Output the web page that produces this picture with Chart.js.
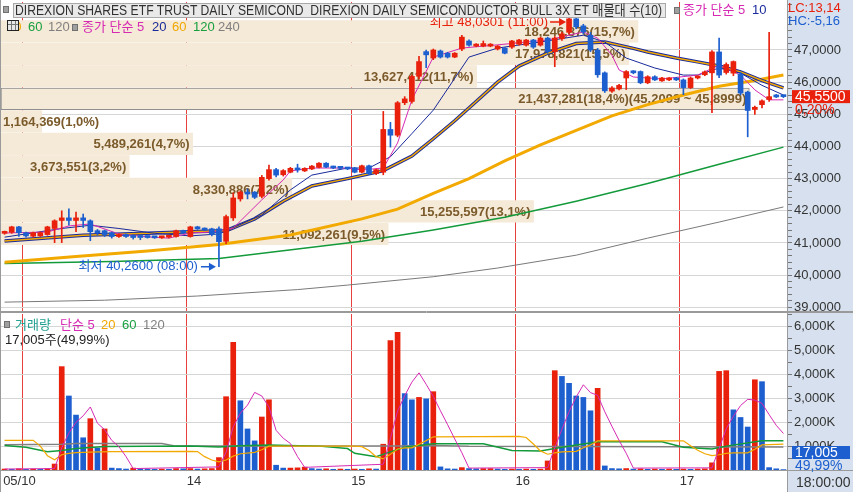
<!DOCTYPE html>
<html><head><meta charset="utf-8">
<script src="https://cdn.jsdelivr.net/npm/chart.js@4.4.1/dist/chart.umd.min.js"></script>
<style>
html,body{margin:0;padding:0;background:#fff;}
#wrap{position:relative;width:853px;height:492px;overflow:hidden;font-family:'Liberation Sans','Noto Sans CJK KR',sans-serif;}
canvas{position:absolute;left:0;}
.ov{position:absolute;white-space:nowrap;font-size:13px;line-height:14px;transform-origin:0 0;}
.sq{position:absolute;width:4px;height:5px;background:#a0a0a0;border:1px solid #707070;}
</style></head><body>
<div id="wrap">
<canvas id="cp" width="853" height="312" style="top:0"></canvas>
<canvas id="cv" width="853" height="180" style="top:312px"></canvas>
<div class="sq" style="left:3px;top:6px"></div>
<div style="position:absolute;left:13px;top:3px;width:653px;height:15px;background:#e9e9e9;border:1px solid #a8a8a8;box-sizing:border-box;"></div>
<div class="ov" id="title" style="left:15px;top:3px;color:#303030;font-size:14px;">DIREXION SHARES ETF TRUST DAILY SEMICOND&nbsp; DIREXION DAILY SEMICONDUCTOR BULL 3X ET 매물대 수(10)</div>
<div class="sq" style="left:674px;top:7px"></div>
<div class="ov" style="left:683px;top:3px;color:#d62ab4">종가 단순 5</div>
<div class="ov" style="left:752px;top:3px;color:#1a2a9c">10</div>
<div class="ov" style="left:788px;top:1px;color:#e8200c">LC:13,14</div>
<div class="ov" style="left:788px;top:14px;color:#1d5fcf">HC:-5,16</div>
<div class="ov" style="left:7px;top:20px;color:#f0a800">20</div>
<div style="position:absolute;left:7px;top:20px;width:12px;height:11px;border:1px solid #222;background:#e6e6e6;box-sizing:border-box;background-image:linear-gradient(#777,#777),linear-gradient(#777,#777),linear-gradient(#777,#777);background-size:1px 100%,1px 100%,100% 1px;background-position:3px 0,7px 0,0 3px;background-repeat:no-repeat;"></div>
<div class="ov" style="left:28px;top:20px;color:#18a040">60</div>
<div class="ov" style="left:48px;top:20px;color:#808080">120</div>
<div class="sq" style="left:72px;top:24px"></div>
<div class="ov" style="left:82px;top:20px;color:#d62ab4">종가 단순 5</div>
<div class="ov" style="left:152px;top:20px;color:#1a2a9c">20</div>
<div class="ov" style="left:172px;top:20px;color:#f0a800">60</div>
<div class="ov" style="left:193px;top:20px;color:#18a040">120</div>
<div class="ov" style="left:218px;top:20px;color:#808080">240</div>
<div class="sq" style="left:4px;top:321px"></div>
<div class="ov" style="left:15px;top:318px;color:#20a090">거래량</div>
<div class="ov" style="left:60px;top:318px;color:#d62ab4">단순 5</div>
<div class="ov" style="left:101px;top:318px;color:#f0a800">20</div>
<div class="ov" style="left:122px;top:318px;color:#18a040">60</div>
<div class="ov" style="left:143px;top:318px;color:#808080">120</div>
<div class="ov" style="left:5px;top:333px;color:#222">17,005주(49,99%)</div>
<div class="ov" style="left:796px;top:475px;color:#333;font-size:14px">18:00:00</div>
</div>
<script>
// ---------------- data ----------------
const openP = [41.30,41.33,41.50,41.32,41.21,41.22,41.26,41.45,41.70,41.78, 41.70,41.78,41.69,41.38,41.38,41.32,41.20,41.26,41.23,41.22,
 41.20,41.19,41.16,41.18,41.20,41.38,41.20,41.50,41.45,41.44, 41.44,41.05,41.78,42.37,42.58,42.58,42.45,43.00,43.28,43.12,
 43.20,43.33,43.24,43.30,43.35,43.48,43.37,43.35,43.33,43.33, 43.20,43.40,43.16,43.20,44.53,44.35,45.36,45.40,46.18,46.95,
 46.75,46.97,46.90,46.78,47.03,47.28,47.12,47.12,47.12,47.03, 47.06,47.09,47.18,47.15,47.31,47.15,47.37,46.95,47.35,47.55,
 47.97,47.75,47.46,47.00,46.29,45.72,45.79,46.13,46.33,46.33, 45.98,46.17,46.04,46.07,46.13,46.07,45.83,46.13,46.23,46.29,
 46.94,46.30,46.28,46.25,45.69,45.15,45.30,45.46,45.58,45.56];
const highP = [41.37,41.52,41.52,41.34,41.34,41.34,41.52,41.72,42.00,42.06, 41.96,41.90,41.72,41.42,41.40,41.34,41.28,41.28,41.25,41.23,
 41.21,41.20,41.21,41.23,41.40,41.40,41.52,41.52,41.47,41.46, 41.50,41.87,42.56,42.62,42.68,42.60,43.10,43.42,43.32,43.28,
 43.35,43.45,43.34,43.41,43.50,43.50,43.39,43.37,43.35,43.35, 43.42,43.42,43.30,45.09,44.75,45.40,45.55,46.22,46.80,47.00,
 47.03,47.00,46.93,46.92,47.46,47.32,47.20,47.28,47.20,47.14, 47.08,47.30,47.33,47.33,47.33,47.40,47.40,47.42,47.55,48.0301,
 48.00,47.80,47.55,47.05,46.32,45.86,45.93,46.36,46.36,46.35, 46.20,46.20,46.15,46.14,46.15,46.10,46.16,46.20,46.35,46.98,
 47.37,46.60,46.66,46.30,45.72,45.26,45.45,47.55,45.62,45.58];
const lowP = [41.27,41.30,41.20,41.18,41.18,41.20,41.24,41.01,41.01,41.55, 41.35,41.48,41.07,41.25,41.20,41.15,41.17,41.17,41.12,41.10,
 41.15,41.14,41.14,41.16,41.18,41.30,41.18,41.42,41.38,41.22, 40.26,40.98,41.70,42.30,42.37,42.38,42.40,42.95,43.05,43.08,
 43.18,43.20,43.22,43.28,43.33,43.34,43.31,43.30,43.28,43.18, 43.18,43.12,43.12,43.12,43.98,44.30,45.30,45.35,46.10,46.45,
 46.70,46.75,46.75,46.76,46.98,47.12,47.10,47.10,47.10,47.00, 46.88,47.05,47.15,47.12,47.05,47.12,46.90,46.48,47.30,47.50,
 47.66,47.50,46.95,46.15,45.68,45.68,45.76,45.77,46.26,45.95, 45.95,46.05,46.02,46.05,46.05,45.61,45.80,46.10,46.20,45.05,
 46.14,46.25,46.20,45.60,44.30,45.00,45.20,45.40,45.52,45.52];
const closeP = [41.35,41.50,41.32,41.22,41.32,41.32,41.50,41.69,41.78,41.70, 41.78,41.70,41.35,41.32,41.26,41.20,41.26,41.20,41.17,41.17,
 41.17,41.16,41.19,41.21,41.38,41.32,41.50,41.44,41.40,41.26, 41.04,41.82,42.40,42.58,42.52,42.42,43.04,43.28,43.11,43.25,
 43.32,43.27,43.32,43.39,43.48,43.36,43.33,43.32,43.30,43.20, 43.40,43.15,43.28,44.53,44.35,45.36,45.48,46.18,46.64,46.85,
 47.00,46.78,46.78,46.90,47.40,47.15,47.18,47.20,47.18,47.12, 46.90,47.28,47.31,47.31,47.09,47.37,46.95,47.37,47.50,47.97,
 47.72,47.56,47.00,46.23,45.73,45.82,45.90,46.33,46.29,45.98, 46.17,46.07,46.13,46.12,46.07,45.83,46.13,46.17,46.32,46.94,
 46.22,46.55,46.64,45.66,45.12,45.22,45.42,45.55,45.54,45.55];
// volume in thousands of shares
const volumeK = [40,30,50,30,40,30,50,250,4330,3100, 2300,1350,2150,920,1720,80,60,40,80,50,
 40,30,40,30,60,50,60,40,50,60, 520,3070,5350,2900,1720,1220,2220,2940,200,80,
 80,90,120,60,40,50,30,40,30,40, 30,50,40,1080,5420,5770,3200,2940,3040,2980,
 3280,130,50,40,100,60,50,60,60,40, 30,40,30,40,30,40,380,4160,3920,3630,
 3100,3040,2480,3420,170,60,50,60,40,50, 30,40,30,40,30,40,30,40,50,300,
 4130,4160,2520,2200,1800,3780,3700,100,50,17.005];
// session starts (bar index) and date labels
const dayStart = [3, 26, 49, 72, 95];
const dayLabel = ['', '14', '15', '16', '17'];
const firstLabel = '05/10';
// moving averages: [bar index, value]
const ma5 = [[0,41.31],[6,41.34],[9,41.53],[12,41.59],[16,41.28],[20,41.19],[23,41.15],[26,41.31],[29,41.34],[32,41.46],[36,42.34],[39,42.96],[40,43.24],[43,43.33],[48,43.33],[50,43.27],[53,43.33],[55,44.11],[57,45.45],[60,46.78],[64,47.06],[69,47.16],[76,47.31],[81,47.56],[83,47.37],[85,46.84],[86,46.38],[88,46.16],[92,46.10],[97,46.22],[100,46.53],[103,46.22],[105,45.76],[107,45.45],[109,45.45]];
const ma10 = [[0,41.18],[8,41.45],[12,41.55],[16,41.45],[21,41.30],[26,41.22],[30,41.28],[36,41.87],[40,42.65],[43,43.11],[48,43.33],[51,43.33],[54,43.68],[57,44.40],[60,45.13],[65,46.78],[69,47.06],[75,47.25],[81,47.46],[84,47.25],[87,46.75],[91,46.44],[95,46.22],[97,46.22],[100,46.44],[103,46.28],[106,45.90],[109,45.60]];
const ma20 = [[0,41.06],[11,41.24],[20,41.30],[27,41.36],[31,41.38],[35,41.75],[39,42.30],[43,42.77],[48,43.00],[53,43.25],[57,43.70],[60,44.24],[63,44.80],[66,45.40],[69,46.00],[72,46.50],[76,46.90],[80,47.20],[84,47.25],[88,47.05],[90,46.94],[94,46.75],[97,46.63],[100,46.50],[103,46.32],[106,46.05],[109,45.82]];
const ma60 = [[0,40.40],[10,40.58],[20,40.75],[30,40.95],[40,41.25],[50,41.75],[55,42.05],[60,42.54],[65,43.00],[70,43.55],[75,44.05],[80,44.50],[85,44.95],[90,45.30],[95,45.60],[100,45.87],[105,46.05],[109,46.22]];
const ma120 = [[0,40.36],[15,40.42],[30,40.52],[41,40.81],[50,41.05],[60,41.40],[70,41.80],[80,42.30],[90,42.85],[100,43.45],[109,43.98]];
const ma240 = [[0,39.16],[14,39.22],[27,39.35],[41,39.55],[48,39.69],[60,39.95],[69,40.22],[80,40.62],[90,41.15],[100,41.65],[109,42.12]];
const vma5 = [[0,40],[7,60],[8,930],[9,1550],[10,2000],[11,2270],[12,2640],[13,1960],[14,1690],[15,1240],[16,980],[17,560],[18,60],[30,130],[31,740],[32,1810],[33,2380],[34,2720],[35,3250],[36,3100],[37,2640],[38,1660],[39,1330],[40,1110],[41,560],[42,110],[53,240],[54,1320],[55,2470],[56,3110],[57,3680],[58,4070],[59,3590],[60,3080],[61,2480],[62,1900],[63,1300],[64,720],[65,80],[76,100],[77,930],[78,1710],[79,2440],[80,3060],[81,3570],[82,3240],[83,3130],[84,2440],[85,1830],[86,1240],[87,700],[88,80],[99,90],[100,900],[101,1730],[102,2250],[103,2700],[104,2960],[105,2930],[106,2790],[107,2320],[108,1870],[109,1530]];
const vma20 = [[0,1240],[4,1240],[5,1000],[6,600],[7,430],[8,640],[9,700],[10,730],[12,750],[15,770],[26,780],[27,770],[28,560],[29,420],[30,340],[31,420],[32,580],[33,680],[35,740],[36,850],[37,1000],[49,1000],[50,980],[51,820],[52,560],[53,470],[54,660],[55,880],[56,930],[57,930],[58,1080],[59,1230],[60,1390],[72,1410],[73,1360],[74,1090],[75,800],[76,660],[77,720],[78,760],[80,780],[81,930],[82,1050],[83,1220],[95,1220],[96,1020],[97,830],[98,680],[99,600],[100,640],[101,700],[102,720],[104,720],[105,870],[106,1050],[109,1080]];
const vma60 = [[0,1030],[3,950],[6,760],[8,820],[10,900],[14,980],[26,1000],[30,960],[33,1020],[37,1050],[44,1000],[48,900],[49,700],[52,560],[54,760],[56,950],[60,1100],[67,1100],[71,820],[75,800],[78,950],[83,1180],[92,1180],[95,950],[99,880],[101,1000],[106,1220],[109,1230]];
const vma120 = [[0,1060],[8,1080],[10,1110],[22,1110],[24,1000],[49,1000],[55,1010],[60,1030],[65,990],[109,960]];
// volume profile (매물대), 10 bands
const vpLow  = [47.23, 46.53, 45.83, 45.13, 44.43, 43.73, 43.03, 42.33, 41.63, 40.93];
const vpHigh = [47.93, 47.23, 46.53, 45.83, 45.13, 44.43, 43.73, 43.03, 42.33, 41.63];
const vpVol  = [18246876, 17978821, 13627412, 21437281, 1164369, 5489261, 3673551, 8330886, 15255597, 11092261];
const vpPct  = [15.7, 15.5, 11.7, 18.4, 1.0, 4.7, 3.2, 7.2, 13.1, 9.5];
const vpCurRange = [45.2099, 45.8999];
const priceTicks = [39, 40, 41, 42, 43, 44, 45, 46, 47];
const volTicksK = [1000, 2000, 3000, 4000, 5000, 6000];
const hiTime = '11:00', loTime = '08:00';
const changePct = 0.20, volPct = 49.99;

// ---------------- drawing ----------------
const FONT = "'Liberation Sans','Noto Sans CJK KR',sans-serif";
Chart.defaults.font.family = FONT;
Chart.defaults.font.size = 12;
Chart.defaults.color = '#333';
const RED = '#e8200c', BLUE = '#1d5fcf';
const N = closeP.length;
const PMIN = 38.8843, PMAX = 48.4925;
const candleCol = openP.map((o, i) => closeP[i] >= o ? RED : BLUE);
const volCol = volumeK.map((v, i) => (i === 0 || v >= volumeK[i - 1]) ? RED : BLUE);
const pts = a => a.map(([x, y]) => ({x, y}));
const bounds = dayStart.map(d => d - 0.5);
const fmt4 = v => v.toFixed(4).replace('.', ',');
const lastClose = closeP[N - 1];
const curBand = vpLow.findIndex((l, k) => lastClose >= l && lastClose < vpHigh[k]);
const vpThick = (vpHigh[0] - vpLow[0]) * 309 / (PMAX - PMIN) - 1;
const clear = 'rgba(0,0,0,0)';
const noPad = s => { s.paddingTop = 0; s.paddingBottom = 0; s.paddingLeft = 0; s.paddingRight = 0; };

function frame(chart) {
  const {ctx, chartArea: a, width, height} = chart;
  ctx.save();
  ctx.fillStyle = '#fff'; ctx.fillRect(0, 0, width, height);
  ctx.fillStyle = '#d6e0ee'; ctx.fillRect(a.right, 0, width - a.right, height);
  ctx.restore();
}
function borders(chart, top) {
  const {ctx, chartArea: a, width, height} = chart;
  ctx.save();
  ctx.strokeStyle = '#9a9a9a'; ctx.lineWidth = 1;
  ctx.beginPath(); ctx.moveTo(0.5, 0); ctx.lineTo(0.5, height);
  ctx.moveTo(a.right + 0.5, 0); ctx.lineTo(a.right + 0.5, height);
  if (top) { ctx.moveTo(0, 0.5); ctx.lineTo(width, 0.5); }
  else { ctx.moveTo(0, height - 0.5); ctx.lineTo(width, height - 0.5); }
  ctx.stroke();
  ctx.restore();
}
function arrow(ctx, x0, x1, y, col) {
  ctx.strokeStyle = col; ctx.fillStyle = col; ctx.lineWidth = 1.5;
  ctx.beginPath(); ctx.moveTo(x0, y); ctx.lineTo(x1 - 5, y); ctx.stroke();
  ctx.beginPath(); ctx.moveTo(x1, y); ctx.lineTo(x1 - 7, y - 4); ctx.lineTo(x1 - 7, y + 4); ctx.closePath(); ctx.fill();
}

const pricePlugin = {
  id: 'pricePlugin',
  beforeDraw(chart) { frame(chart); },
  afterDatasetDraw(chart, args) {
    if (args.index !== 0) return;
    const {ctx, chartArea: a} = chart;
    const xs = chart.scales.xvp, ys = chart.scales.y;
    ctx.save();
    ctx.font = 'bold 13px ' + FONT; ctx.fillStyle = '#7b5b2b'; ctx.textBaseline = 'middle';
    vpVol.forEach((v, k) => {
      let t = v.toLocaleString('en-US') + '(' + vpPct[k].toFixed(1).replace('.', ',') + '%)';
      if (k === curBand) t += '(' + fmt4(vpCurRange[0]) + ' ~ ' + fmt4(vpCurRange[1]) + ')';
      const xe = xs.getPixelForValue(v), ym = ys.getPixelForValue((vpLow[k] + vpHigh[k]) / 2);
      const w = ctx.measureText(t).width;
      if (w + 4 < xe - a.left) { ctx.textAlign = 'right'; ctx.fillText(t, xe - 3, ym + 1); }
      else { ctx.textAlign = 'left'; ctx.fillText(t, a.left + 2, ym + 1); }
    });
    ctx.restore();
  },
  afterDatasetsDraw(chart) {
    const {ctx} = chart;
    const xs = chart.scales.x, ys = chart.scales.y;
    const hi = highP.indexOf(Math.max(...highP)), lo = lowP.indexOf(Math.min(...lowP));
    ctx.save();
    ctx.font = '13px ' + FONT; ctx.textBaseline = 'middle'; ctx.textAlign = 'right';
    let x = xs.getPixelForValue(hi), y = Math.max(ys.getPixelForValue(highP[hi]) + 5, 22);
    ctx.fillStyle = RED; ctx.fillText('최고 ' + fmt4(highP[hi]) + ' (' + hiTime + ')', x - 21, y);
    arrow(ctx, x - 19, x - 3, y, RED);
    x = xs.getPixelForValue(lo); y = ys.getPixelForValue(lowP[lo]);
    ctx.fillStyle = BLUE; ctx.fillText('최저 ' + fmt4(lowP[lo]) + ' (' + loTime + ')', x - 21, y);
    arrow(ctx, x - 18, x - 3, y, BLUE);
    ctx.restore();
  },
  afterDraw(chart) {
    borders(chart, false);
    const {ctx, chartArea: a} = chart;
    const y = chart.scales.y.getPixelForValue(lastClose);
    ctx.save();
    ctx.fillStyle = RED; ctx.fillRect(a.right + 5, y - 6.5, 58, 13);
    ctx.font = '14px ' + FONT; ctx.textBaseline = 'middle'; ctx.textAlign = 'left';
    ctx.fillStyle = '#fff'; ctx.fillText(fmt4(lastClose), a.right + 8, y + 0.5);
    ctx.fillStyle = RED; ctx.fillText(changePct.toFixed(2).replace('.', ',') + '%', a.right + 8, y + 14);
    ctx.restore();
  }
};

const volPlugin = {
  id: 'volPlugin',
  beforeDraw(chart) { frame(chart); },
  afterDraw(chart) {
    borders(chart, true);
    const {ctx, chartArea: a, width} = chart;
    ctx.save();
    ctx.strokeStyle = '#9a9a9a';
    ctx.beginPath(); ctx.moveTo(0, a.bottom + 0.5); ctx.lineTo(width, a.bottom + 0.5); ctx.stroke();
    const v = volumeK[N - 1];
    const yv = chart.scales.y.getPixelForValue(v);
    const top = Math.min(yv - 6.5, a.bottom - 24);
    ctx.fillStyle = BLUE; ctx.fillRect(a.right + 5, top, 58, 13);
    ctx.font = '14px ' + FONT; ctx.textBaseline = 'middle'; ctx.textAlign = 'left';
    ctx.fillStyle = '#fff'; ctx.fillText(Math.round(v * 1000).toLocaleString('en-US'), a.right + 8, top + 7);
    ctx.fillStyle = BLUE; ctx.fillText(volPct.toFixed(2).replace('.', ',') + '%', a.right + 8, top + 20);
    ctx.restore();
  }
};

const line = (d, col, w, order) => ({type: 'line', xAxisID: 'x', yAxisID: 'y', data: pts(d), borderColor: col, borderWidth: w, pointRadius: 0, tension: 0, order});

const priceMinor = [];
priceTicks.concat([48]).forEach(t => { for (let k = 0; k < 5; k++) priceMinor.push(Math.round((t + k * 0.2) * 10) / 10); });

new Chart(document.getElementById('cp'), {
  type: 'bar',
  data: {datasets: [
    {type: 'bar', indexAxis: 'y', xAxisID: 'xvp', yAxisID: 'y', grouped: false, order: 100,
     data: vpVol.map((v, k) => ({x: v, y: (vpLow[k] + vpHigh[k]) / 2})),
     backgroundColor: '#f5e9d7', borderColor: '#8f8f8f', borderSkipped: false,
     borderWidth: vpVol.map((v, k) => k === curBand ? 1 : 0), barThickness: vpThick},
    line(ma240, '#7a7a7a', 1, 30),
    line(ma120, '#139a3a', 1.5, 29),
    line(ma60, '#f2a900', 3, 28),
    line(ma20, '#1a2a9c', 3.5, 27),
    line(ma20, '#f2a900', 1.5, 26),
    line(ma10, '#1a2a9c', 1, 25),
    line(ma5, '#d62ab4', 1, 24),
    {type: 'bar', xAxisID: 'x', yAxisID: 'y', grouped: false, order: 2, barThickness: 1, minBarLength: 1,
     data: openP.map((o, i) => ({x: i, y: [lowP[i], highP[i]]})), backgroundColor: candleCol},
    {type: 'bar', xAxisID: 'x', yAxisID: 'y', grouped: false, order: 1, barThickness: 5, minBarLength: 2,
     data: openP.map((o, i) => ({x: i, y: [o, closeP[i]]})), backgroundColor: candleCol}
  ]},
  options: {
    responsive: false, animation: false, events: [],
    layout: {padding: {left: 1, top: 2, right: 0, bottom: 1}},
    plugins: {legend: {display: false}, tooltip: {enabled: false}},
    scales: {
      x: {type: 'linear', offset: false, min: -0.5, max: N - 0.5,
          afterBuildTicks: s => { s.ticks = bounds.map(v => ({value: v})); },
          ticks: {display: false}, grid: {offset: false, color: '#e8403c', drawTicks: false}, border: {display: false},
          afterFit: s => { s.height = 0; noPad(s); }},
      y: {position: 'right', offset: false, min: PMIN, max: PMAX,
          afterBuildTicks: s => { s.ticks = priceMinor.filter(v => v > PMIN && v < PMAX).map(v => ({value: v})); },
          afterFit: s => { s.width = 66; noPad(s); },
          ticks: {autoSkip: false, padding: 2, color: '#333', font: {size: 13},
                  callback: v => priceTicks.includes(v) ? fmt4(v) : ''},
          grid: {offset: false, color: c => priceTicks.includes(c.tick && c.tick.value) ? '#d6d6d6' : clear, tickColor: '#777', tickLength: 5},
          border: {color: '#9a9a9a'}},
      xvp: {type: 'linear', offset: false, display: false, min: 0, max: Math.max(...vpVol) / 0.952}
    }
  },
  plugins: [pricePlugin]
});

const volMinor = [];
for (let k = 1; k <= 13; k++) volMinor.push(k * 500);

new Chart(document.getElementById('cv'), {
  type: 'bar',
  data: {datasets: [
    {type: 'bar', xAxisID: 'x', yAxisID: 'y', grouped: false, order: 10, barThickness: 5,
     data: volumeK.map((v, i) => ({x: i, y: v})), backgroundColor: volCol},
    line(vma120, '#808080', 1.5, 4),
    line(vma60, '#139a3a', 1.5, 3),
    line(vma20, '#f2a900', 1.2, 2),
    line(vma5, '#d62ab4', 1, 1)
  ]},
  options: {
    responsive: false, animation: false, events: [],
    layout: {padding: {left: 1, top: 2, right: 0, bottom: 0}},
    plugins: {legend: {display: false}, tooltip: {enabled: false}},
    scales: {
      x: {type: 'linear', offset: false, min: -0.5, max: N - 0.5,
          afterBuildTicks: s => { s.ticks = [{value: -0.2}].concat(bounds.map(v => ({value: v}))); },
          afterFit: s => { s.height = 22; noPad(s); },
          ticks: {autoSkip: false, maxRotation: 0, align: 'start', padding: 4, color: '#333', font: {size: 13},
                  callback: (v, i) => i === 0 ? firstLabel : dayLabel[i - 1]},
          grid: {offset: false, color: c => (c.tick && c.tick.value < 0) ? clear : '#e8403c', drawTicks: false},
          border: {display: false}},
      y: {position: 'right', offset: false, min: 0, max: 6534,
          afterBuildTicks: s => { s.ticks = volMinor.filter(v => v < 6534).map(v => ({value: v})); },
          afterFit: s => { s.width = 66; noPad(s); },
          ticks: {autoSkip: false, padding: 2, color: '#333', font: {size: 13},
                  callback: v => volTicksK.includes(v) ? v.toLocaleString('en-US') + 'K' : ''},
          grid: {offset: false, color: c => volTicksK.includes(c.tick && c.tick.value) ? '#d6d6d6' : clear, tickColor: '#777', tickLength: 5},
          border: {color: '#9a9a9a'}}
    }
  },
  plugins: [volPlugin]
});

// fit the title text width to the box like the original
const t = document.getElementById('title');
const w = t.getBoundingClientRect().width;
t.style.transform = 'scaleX(' + (647 / w) + ')';
</script>
</body></html>
